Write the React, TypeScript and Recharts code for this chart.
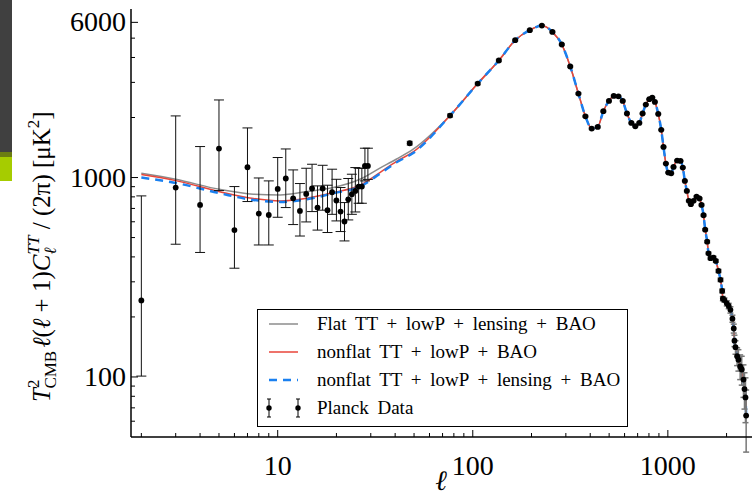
import { ComposedChart, Line, Scatter, ErrorBar, XAxis, YAxis, Legend } from 'recharts';

const FONT = "'Liberation Serif', 'DejaVu Serif', serif";

// Planck low-ell points (unbinned), with asymmetric error bounds
const lowEll = [2, 3, 4, 5, 6, 7, 8, 9, 10, 11, 12, 13, 14, 15, 16, 17, 18, 19, 20, 21, 22, 23, 24, 25, 26, 27, 28, 29];
const lowD = [242, 891, 729, 1397, 545, 1126, 660, 649, 877, 989, 787, 680, 828, 881, 707, 881, 686, 844, 767, 675, 602, 778, 825, 857, 901, 901, 1143, 1143];
const lowUpper = [809, 2037, 1430, 2449, 901, 1773, 995, 962, 1260, 1391, 1092, 933, 1113, 1166, 908, 1152, 915, 1101, 980, 891, 749, 989, 1039, 1122, 1113, 1113, 1403, 1403];
const lowLower = [101, 463, 421, 860, 351, 758, 459, 459, 632, 707, 581, 509, 599, 675, 545, 686, 530, 654, 606, 536, 481, 613, 654, 672, 743, 743, 962, 979];

// Planck binned high-ell points
const highEll = [
  47.5, 76.5, 106, 136, 165, 196, 226, 256, 286, 316,
  348, 378, 407, 437, 467, 499, 528, 558, 587, 617,
  650, 681, 714, 742, 771, 803, 832, 858, 893, 925,
  950, 977, 1005, 1040, 1069, 1116, 1161, 1193, 1222, 1251,
  1281, 1312, 1354, 1403, 1453, 1488, 1524, 1554, 1591, 1616,
  1655, 1714, 1761, 1818, 1862, 1899, 1914, 1950, 2005, 2051,
  2093, 2143, 2177, 2195, 2222, 2265, 2300, 2348, 2392, 2442,
  2471, 2500, 2520,
];
const highD = [
  1486, 2046, 2958, 3863, 4883, 5483, 5781, 5371, 4646, 3603,
  2636, 2028, 1761, 1794, 2151, 2422, 2565, 2555, 2422, 2094,
  1879, 1808, 1879, 2094, 2323, 2470, 2517, 2393, 2085, 1734,
  1424, 1175, 1059, 1051, 1130, 1217, 1211, 1122, 962, 857,
  764, 735, 764, 803, 785, 729, 647, 548, 477, 417,
  394, 397, 382, 340, 307, 270, 247, 243, 234, 227,
  217, 196, 175, 152, 141, 127, 122, 113, 109, 97,
  87, 79, 64,
];
const highErr = [
  30, 35, 40, 45, 50, 50, 50, 45, 40, 35,
  25, 20, 18, 18, 20, 20, 20, 20, 18, 16,
  14, 13, 13, 14, 15, 15, 15, 14, 12, 10,
  9, 8, 7, 7, 7, 7, 7, 7, 6, 6,
  6, 6, 6, 7, 7, 7, 7, 6, 6, 6,
  6, 6, 6, 6, 6, 6, 6, 6, 7, 7,
  8, 8, 9, 10, 11, 13, 15, 16, 18, 18,
  18, 20, 22,
];

// best-fit spectra where they differ (low ell); above ell ~ 75 they sit on the binned data
const fitEll = [2, 3, 5.1, 7.5, 10.3, 14.1, 19.3, 26.4, 33.4, 40.5, 49.5];
const flatFit = [1050, 980, 870, 825, 818, 850, 891, 980, 1115, 1235, 1387];
const nonflatFit = [1035, 965, 847, 785, 762, 787, 841, 915, 1059, 1203, 1344];
const nonflatLensFit = [1000, 940, 832, 772, 755, 778, 834, 901, 1045, 1189, 1329];

const xMajor = [10, 100, 1000];
const xMinor = [2, 3, 4, 5, 6, 7, 8, 9, 20, 30, 40, 50, 60, 70, 80, 90, 200, 300, 400, 500, 600, 700, 800, 900, 2000];
const yMajor = [100, 1000, 6000];
const yMinor = [60, 70, 80, 90, 200, 300, 400, 500, 600, 700, 800, 900, 2000, 3000, 4000, 5000];

const legendItems = [
  { label: 'Flat TT + lowP + lensing + BAO', color: '#8c8c8c', dash: '' },
  { label: 'nonflat TT + lowP + BAO', color: '#e8453a', dash: '' },
  { label: 'nonflat TT + lowP + lensing + BAO', color: '#1a80f0', dash: '8 6' },
  { label: 'Planck Data', color: '#000', dash: 'points' },
];

const lowRows = lowEll.map((l, i) => ({ l, d: lowD[i], err: [lowD[i] - lowLower[i], lowUpper[i] - lowD[i]] }));
const highRows = highEll.map((l, i) => ({ l, d: highD[i], err: highErr[i] }));
const fitRows = [
  ...fitEll.map((l, i) => ({ l, flat: flatFit[i], nonflat: nonflatFit[i], lens: nonflatLensFit[i] })),
  ...highEll.slice(1).map((l, i) => ({ l, flat: highD[i + 1], nonflat: highD[i + 1], lens: highD[i + 1] })),
];

function BottomTick({ x, y, payload }: any) {
  const major = xMajor.includes(payload.value);
  return (
    <g>
      <line x1={x} x2={x} y1={y} y2={y - (major ? 7 : 4)} stroke="#000" strokeWidth={1} />
      {major && (
        <text x={x} y={y + 38} textAnchor="middle" fontFamily={FONT} fontSize={28} fill="#000">
          {payload.value}
        </text>
      )}
    </g>
  );
}

function TopTick({ x, y, payload }: any) {
  const major = xMajor.includes(payload.value);
  return <line x1={x} x2={x} y1={y} y2={y + (major ? 7 : 4)} stroke="#000" strokeWidth={1} />;
}

function LeftTick({ x, y, payload }: any) {
  const major = yMajor.includes(payload.value);
  return (
    <g>
      <line x1={x} x2={x + (major ? 7 : 4)} y1={y} y2={y} stroke="#000" strokeWidth={1} />
      {major && (
        <text x={x - 5} y={y + 9} textAnchor="end" fontFamily={FONT} fontSize={28} fill="#000">
          {payload.value}
        </text>
      )}
    </g>
  );
}

function RightTick({ x, y, payload }: any) {
  const major = yMajor.includes(payload.value);
  return <line x1={x} x2={x - (major ? 7 : 4)} y1={y} y2={y} stroke="#000" strokeWidth={1} />;
}

function YAxisTitle() {
  return (
    <text transform="translate(50, 402) rotate(-90)" textAnchor="start" fontFamily={FONT} fontSize={25} fill="#000">
      <tspan fontStyle="italic">T</tspan>
      <tspan fontSize={17} dy={-11}>2</tspan>
      <tspan fontSize={17} dx={-9} dy={17}>CMB</tspan>
      <tspan dy={-6} dx={3} fontStyle="italic">ℓ</tspan>
      <tspan>(</tspan>
      <tspan fontStyle="italic">ℓ</tspan>
      <tspan> + 1)</tspan>
      <tspan fontStyle="italic">C</tspan>
      <tspan fontSize={17} fontStyle="italic" dy={-11}>TT</tspan>
      <tspan fontSize={17} fontStyle="italic" dx={-19} dy={17}>ℓ</tspan>
      <tspan dy={-6} dx={12}> / (2π) [μK</tspan>
      <tspan fontSize={17} dy={-11}>2</tspan>
      <tspan dy={11}>]</tspan>
    </text>
  );
}

function XAxisTitle() {
  return (
    <text x={441} y={490} textAnchor="middle" fontFamily={FONT} fontSize={28} fontStyle="italic" fill="#000">
      ℓ
    </text>
  );
}

function LegendBox() {
  return (
    <div
      style={{
        width: 371,
        height: 118,
        boxSizing: 'border-box',
        border: '1.5px solid #000',
        background: '#fff',
        fontFamily: FONT,
        fontSize: 19,
        wordSpacing: 4,
        color: '#000',
      }}
    >
      {legendItems.map((item) => (
        <div key={item.label} style={{ display: 'flex', alignItems: 'center', height: 28 }}>
          <svg width={59} height={28} style={{ flex: 'none' }}>
            {item.dash === 'points' ? (
              [11, 40].map((cx) => (
                <g key={cx}>
                  <line x1={cx} x2={cx} y1={5} y2={23} stroke="#000" strokeWidth={1} />
                  <line x1={cx - 2} x2={cx + 2} y1={5} y2={5} stroke="#000" strokeWidth={1} />
                  <line x1={cx - 2} x2={cx + 2} y1={23} y2={23} stroke="#000" strokeWidth={1} />
                  <circle cx={cx} cy={14} r={2.7} fill="#000" />
                </g>
              ))
            ) : (
              <line
                x1={11}
                x2={40}
                y1={14}
                y2={14}
                stroke={item.color}
                strokeWidth={item.dash ? 2.5 : 1.5}
                strokeDasharray={item.dash || undefined}
              />
            )}
          </svg>
          <span style={{ whiteSpace: 'nowrap' }}>{item.label}</span>
        </div>
      ))}
    </div>
  );
}

const dot = (p: any) => <circle cx={p.cx} cy={p.cy} r={2.9} fill="#000" />;

export default function App() {
  return (
    <div style={{ position: 'absolute', left: 0, top: 0, width: 756, height: 498, background: '#fff' }}>
      <div style={{ position: 'absolute', left: 0, top: 0, width: 12, height: 152, background: '#404040' }} />
      <div style={{ position: 'absolute', left: 0, top: 152, width: 12, height: 5, background: '#6b7d12' }} />
      <div style={{ position: 'absolute', left: 0, top: 157, width: 12, height: 24, background: '#a6cc00' }} />
      <ComposedChart width={756} height={498} margin={{ top: 9, right: 4, bottom: 0, left: 0 }}>
        <XAxis
          dataKey="l"
          type="number"
          scale="log"
          domain={[1.77, 2700]}
          allowDataOverflow
          ticks={[...xMajor, ...xMinor]}
          interval={0}
          height={61}
          tickSize={0}
          tickMargin={0}
          tickLine={false}
          tick={<BottomTick />}
          axisLine={{ stroke: '#000', strokeWidth: 1.5 }}
          label={<XAxisTitle />}
        />
        <XAxis
          xAxisId="top"
          dataKey="l"
          type="number"
          scale="log"
          orientation="top"
          domain={[1.77, 2700]}
          allowDataOverflow
          ticks={[...xMajor, ...xMinor]}
          interval={0}
          height={0}
          tickSize={0}
          tickMargin={0}
          tickLine={false}
          tick={<TopTick />}
          axisLine={{ stroke: '#000', strokeWidth: 1.5 }}
        />
        <YAxis
          type="number"
          scale="log"
          domain={[50, 7000]}
          allowDataOverflow
          ticks={[...yMajor, ...yMinor]}
          interval={0}
          width={131}
          tickSize={0}
          tickMargin={0}
          tickLine={false}
          tick={<LeftTick />}
          axisLine={{ stroke: '#000', strokeWidth: 1.5 }}
          label={<YAxisTitle />}
        />
        <YAxis
          yAxisId="right"
          orientation="right"
          type="number"
          scale="log"
          domain={[50, 7000]}
          allowDataOverflow
          ticks={[...yMajor, ...yMinor]}
          interval={0}
          width={0}
          tickSize={0}
          tickMargin={0}
          tickLine={false}
          tick={<RightTick />}
          axisLine={{ stroke: '#000', strokeWidth: 1.5 }}
        />
        <Line data={fitRows} dataKey="flat" type="monotone" stroke="#8c8c8c" strokeWidth={1.5} dot={false} isAnimationActive={false} />
        <Line data={fitRows} dataKey="nonflat" type="monotone" stroke="#e8453a" strokeWidth={1.5} dot={false} isAnimationActive={false} />
        <Line
          data={fitRows}
          dataKey="lens"
          type="monotone"
          stroke="#1a80f0"
          strokeWidth={2.5}
          strokeDasharray="8 6"
          dot={false}
          isAnimationActive={false}
        />
        <Scatter data={lowRows} dataKey="d" shape={dot} isAnimationActive={false}>
          <ErrorBar dataKey="err" direction="y" width={5} stroke="#111" strokeWidth={1} />
        </Scatter>
        <Scatter data={highRows} dataKey="d" shape={dot} isAnimationActive={false}>
          <ErrorBar dataKey="err" direction="y" width={3} stroke="#777" strokeWidth={1.5} />
        </Scatter>
        <Legend
          layout="horizontal"
          verticalAlign="middle"
          align="center"
          content={() => <LegendBox />}
          wrapperStyle={{ left: 257, top: 309, width: 371, height: 118 }}
        />
      </ComposedChart>
    </div>
  );
}
